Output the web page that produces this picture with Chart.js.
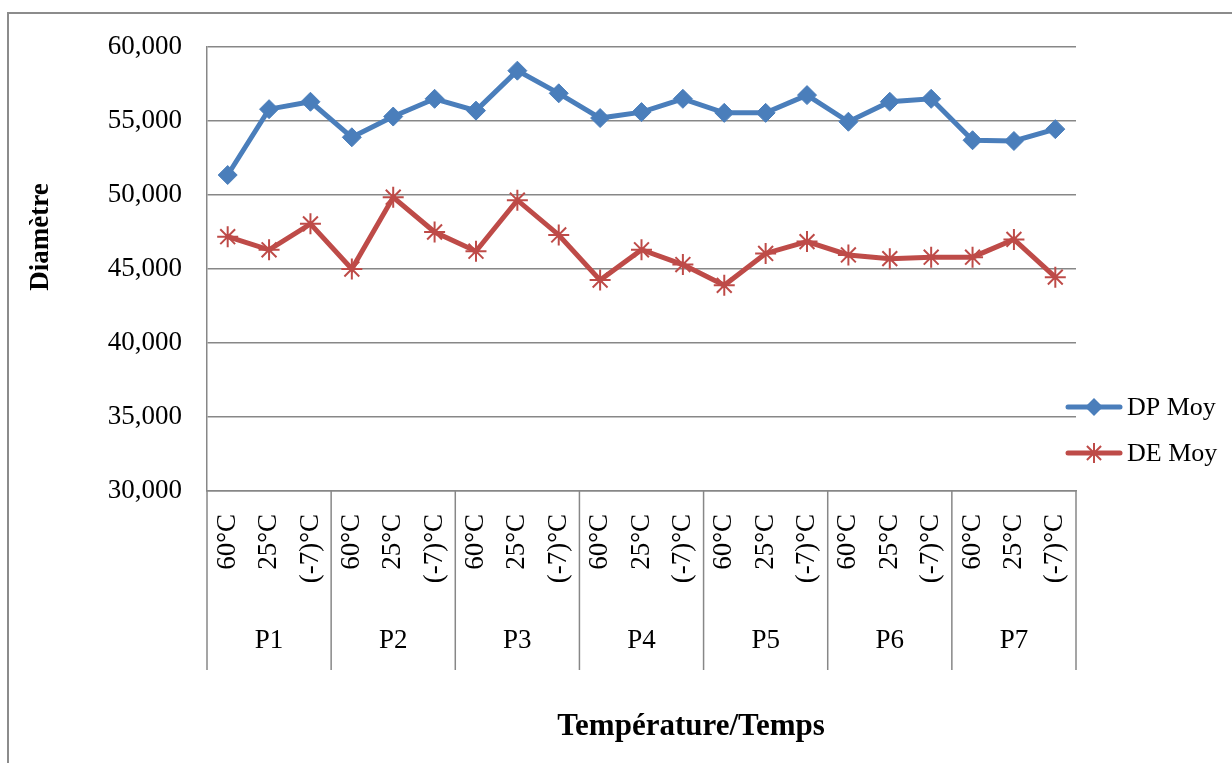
<!DOCTYPE html>
<html lang="fr">
<head>
<meta charset="utf-8">
<title>Diamètre</title>
<script src="https://cdn.jsdelivr.net/npm/chart.js@4/dist/chart.umd.min.js"></script>
<style>
  html, body { margin: 0; padding: 0; background: #fff; }
  #wrap { width: 1232px; height: 763px; position: relative; }
</style>
</head>
<body>
<div id="wrap"><canvas id="chart"></canvas></div>
<script>
// Données
const temperatures = ['60°C', '25°C', '(-7)°C'];
const periodes = ['P1', 'P2', 'P3', 'P4', 'P5', 'P6', 'P7'];
const categories = periodes.flatMap(() => temperatures);

const dpMoy = [51.35, 55.8, 56.3, 53.9, 55.3, 56.5, 55.7, 58.4, 56.87, 55.2, 55.6,
               56.5, 55.55, 55.55, 56.75, 54.95, 56.3, 56.5, 53.7, 53.65, 54.45];
const deMoy = [47.18, 46.3, 48.05, 45.0, 49.85, 47.5, 46.2, 49.65, 47.3, 44.25, 46.3,
               45.3, 43.9, 46.05, 46.85, 45.95, 45.7, 45.8, 45.8, 47.0, 44.45];

const yMin = 30, yMax = 60, yStep = 5;

const BLUE = '#4A7EBB';
const RED = '#BE4B48';
const GRID = '#878787';
const FONT = "'Liberation Serif', 'Times New Roman', serif";

// Cadre, titres, libellés de groupe et légende
const decorPlugin = {
    id: 'decor',
    beforeDraw(chart) {
        const ctx = chart.ctx;
        ctx.save();
        ctx.strokeStyle = '#8c8c8c';
        ctx.lineWidth = 2;
        ctx.beginPath();
        ctx.moveTo(1232, 13);
        ctx.lineTo(8, 13);
        ctx.lineTo(8, 763);
        ctx.stroke();
        ctx.restore();
    },
    afterDraw(chart) {
        const ctx = chart.ctx;
        const x = chart.scales.x;
        const area = chart.chartArea;
        const half = (x.getPixelForValue(1) - x.getPixelForValue(0)) / 2;

        ctx.save();
        // séparateurs de périodes
        ctx.strokeStyle = GRID;
        ctx.lineWidth = 1.5;
        for (let k = 0; k <= periodes.length; k++) {
            const px = k < periodes.length
                ? x.getPixelForValue(k * 3) - half
                : x.getPixelForValue(categories.length - 1) + half;
            ctx.beginPath();
            ctx.moveTo(px, area.bottom);
            ctx.lineTo(px, 670);
            ctx.stroke();
        }

        // libellés P1..P7
        ctx.fillStyle = '#000';
        ctx.font = `27px ${FONT}`;
        ctx.textAlign = 'center';
        ctx.textBaseline = 'middle';
        periodes.forEach((p, i) => {
            const px = x.getPixelForValue(i * 3 + 1);
            ctx.fillText(p, px, 641);
        });

        // titres des axes
        ctx.font = `bold 31px ${FONT}`;
        ctx.fillText('Température/Temps', 691, 727);

        ctx.save();
        ctx.translate(41, 237);
        ctx.rotate(-Math.PI / 2);
        ctx.font = `bold 27px ${FONT}`;
        ctx.fillText('Diamètre', 0, 0);
        ctx.restore();

        // légende
        const items = [
            { label: 'DP Moy', color: BLUE, style: 'diamond', y: 407 },
            { label: 'DE Moy', color: RED, style: 'star', y: 453 }
        ];
        items.forEach(it => {
            ctx.strokeStyle = it.color;
            ctx.fillStyle = it.color;
            ctx.lineWidth = 5;
            ctx.lineCap = 'round';
            ctx.beginPath();
            ctx.moveTo(1068, it.y);
            ctx.lineTo(1120, it.y);
            ctx.stroke();
            const cx = 1094;
            if (it.style === 'diamond') {
                ctx.beginPath();
                ctx.moveTo(cx - 9, it.y);
                ctx.lineTo(cx, it.y - 9);
                ctx.lineTo(cx + 9, it.y);
                ctx.lineTo(cx, it.y + 9);
                ctx.closePath();
                ctx.fill();
            } else {
                ctx.lineWidth = 2;
                ctx.lineCap = 'butt';
                const r = 10, d = r * Math.SQRT1_2;
                ctx.beginPath();
                ctx.moveTo(cx, it.y - r); ctx.lineTo(cx, it.y + r);
                ctx.moveTo(cx - d, it.y - d); ctx.lineTo(cx + d, it.y + d);
                ctx.moveTo(cx - d, it.y + d); ctx.lineTo(cx + d, it.y - d);
                ctx.stroke();
            }
            ctx.fillStyle = '#000';
            ctx.font = `26px ${FONT}`;
            ctx.textAlign = 'left';
            ctx.fillText(it.label, 1127, it.y + 1);
        });
        ctx.restore();
    }
};

new Chart(document.getElementById('chart'), {
    type: 'line',
    data: {
        labels: categories,
        datasets: [
            {
                label: 'DP Moy',
                data: dpMoy,
                borderColor: BLUE,
                backgroundColor: BLUE,
                borderWidth: 5,
                pointStyle: 'rectRot',
                pointRadius: 9.5,
                pointBorderWidth: 1,
                tension: 0
            },
            {
                label: 'DE Moy',
                data: deMoy,
                borderColor: RED,
                backgroundColor: RED,
                borderWidth: 5,
                pointStyle: 'star',
                pointRadius: 10.5,
                pointBorderWidth: 2,
                tension: 0
            }
        ]
    },
    options: {
        responsive: true,
        maintainAspectRatio: false,
        animation: false,
        layout: { padding: { left: 20, right: 156, top: 47, bottom: 0 } },
        plugins: {
            legend: { display: false },
            tooltip: { enabled: false }
        },
        scales: {
            x: {
                type: 'category',
                offset: true,
                grid: { display: false, drawTicks: false },
                border: { display: true, color: GRID, width: 1.5 },
                ticks: {
                    autoSkip: false,
                    maxRotation: 90,
                    minRotation: 90,
                    padding: 23,
                    color: '#000',
                    font: { family: FONT, size: 27 }
                },
                afterFit(scale) { scale.height = 272; }
            },
            y: {
                min: yMin,
                max: yMax,
                grid: { color: GRID, lineWidth: 1.5, drawTicks: false },
                border: { display: true, color: GRID, width: 1.5 },
                ticks: {
                    stepSize: yStep,
                    padding: 25,
                    color: '#000',
                    font: { family: FONT, size: 27 },
                    callback: v => v.toFixed(3).replace('.', ',')
                },
                afterFit(scale) { scale.width = 187; }
            }
        }
    },
    plugins: [decorPlugin]
});
</script>
</body>
</html>
